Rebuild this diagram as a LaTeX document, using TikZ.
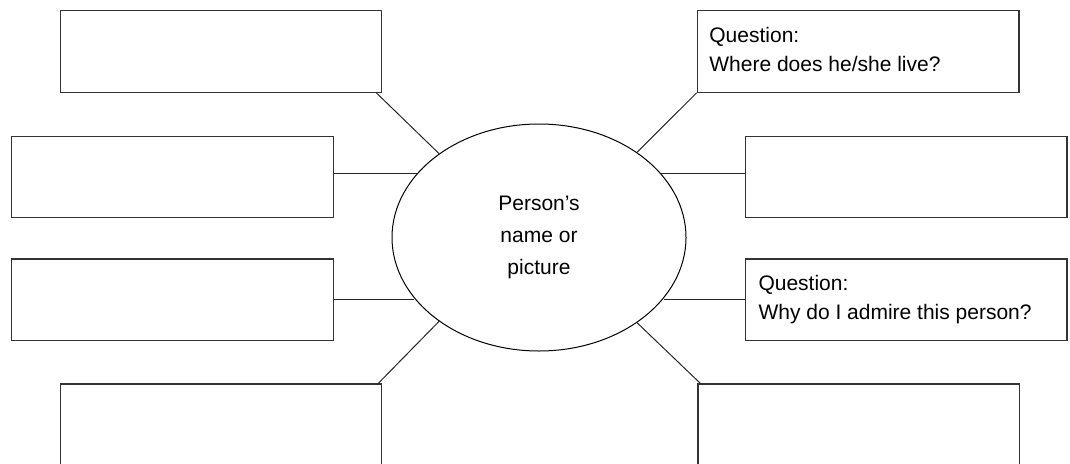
\documentclass[tikz,border=0pt]{standalone}
\usepackage{fontspec}
\setmainfont{Liberation Sans}
\usetikzlibrary{shapes.geometric,calc}
\begin{document}
\begin{tikzpicture}[x=1pt,y=-1pt,
  box/.style={draw=black!80, line width=1.3pt, rectangle, anchor=north west,
    inner sep=0pt, minimum width=321.5pt, minimum height=81.5pt},
  conn/.style={draw=black!85, line width=1pt},
  qtext/.style={anchor=north west, inner sep=0pt, align=left,
    font=\fontsize{21pt}{28.5pt}\selectfont},
  centre/.style={draw=black, line width=1pt, ellipse, inner sep=0pt,
    minimum width=294pt, minimum height=227pt, align=center,
    font=\fontsize{21pt}{31.7pt}\selectfont}
]
\useasboundingbox (0,0) rectangle (1070,463);
\clip (0,0) rectangle (1070,463);

% central ellipse
\node[centre] (ell) at (539,237.5) {Person’s\\name or\\picture};

% boxes
\node[box] (tl) at (59.5,10) {};
\node[box] (ml1) at (11,135.5) {};
\node[box] (ml2) at (11,258.3) {};
\node[box, minimum height=95pt] (bl) at (59.5,383.3) {};
\node[box] (tr) at (696.7,10) {};
\node[box] (mr1) at (744.7,135.5) {};
\node[box] (mr2) at (744.7,258.3) {};
\node[box, minimum height=95pt] (br) at (697.3,383.3) {};

% texts in boxes
\node[qtext] (qtr) at ([shift={(12.5,17.2)}]tr.north west) {Question:\\Where does he/she live?};
\node[qtext] (qmr) at ([shift={(13.6,17.2)}]mr2.north west) {Question:\\Why do I admire this person?};

% connectors
\draw[conn] ([xshift=-6pt]tl.south east) -- (ell.140);
\draw[conn] ([yshift=3pt]ml1.east) -- ([yshift=3pt]ml1.east -| ell.152);
\draw[conn] (ml2.east) -- (ml2.east -| ell.206);
\draw[conn] ([xshift=-4pt]bl.north east) -- (ell.220);
\draw[conn] (tr.south west) -- (ell.41);
\draw[conn] ([yshift=3pt]mr1.west) -- ([yshift=3pt]mr1.west -| ell.28);
\draw[conn] (mr2.west) -- (mr2.west -| ell.334);
\draw[conn] ([xshift=3pt]br.north west) -- (ell.319);
\end{tikzpicture}
\end{document}
